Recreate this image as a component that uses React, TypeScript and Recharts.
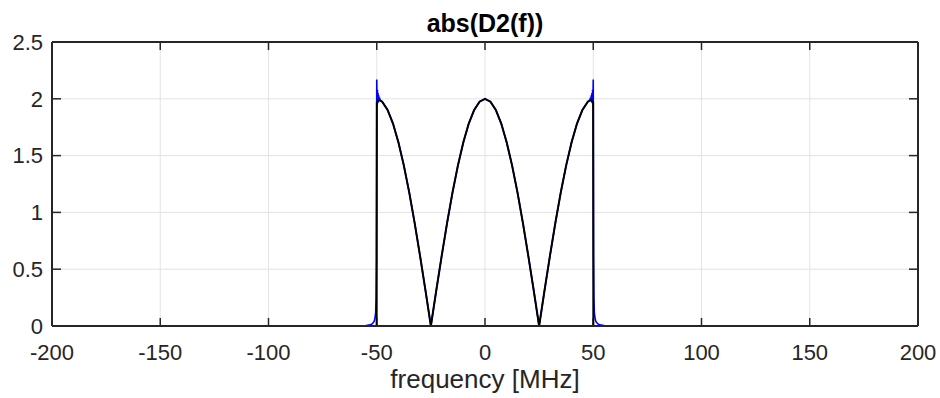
import React from "react";
import {
  CartesianGrid,
  Line,
  LineChart,
  ReferenceLine,
  XAxis,
  YAxis,
} from "recharts";

const xTicks = [-200, -150, -100, -50, 0, 50, 100, 150, 200];
const yTicks = [0, 0.5, 1, 1.5, 2, 2.5];

// |D2(f)| sampled inside the band, shared by both traces
const coreFreq = [
  -47.5, -45, -42.5, -40, -37.5, -35, -32.5, -30, -27.5, -25, -22.5, -20, -17.5,
  -15, -12.5, -10, -7.5, -5, -2.5, 0, 2.5, 5, 7.5, 10, 12.5, 15, 17.5, 20, 22.5,
  25, 27.5, 30, 32.5, 35, 37.5, 40, 42.5, 45, 47.5,
];
const coreAmp = [
  1.975, 1.902, 1.782, 1.618, 1.414, 1.176, 0.908, 0.618, 0.313, 0, 0.313,
  0.618, 0.908, 1.176, 1.414, 1.618, 1.782, 1.902, 1.975, 2.0, 1.975, 1.902,
  1.782, 1.618, 1.414, 1.176, 0.908, 0.618, 0.313, 0, 0.313, 0.618, 0.908,
  1.176, 1.414, 1.618, 1.782, 1.902, 1.975,
];

// black trace: ideal band edges
const blackLeftFreq = [-200, -50.05, -49.95, -49];
const blackLeftAmp = [0, 0, 1.97, 1.99];
const blackRightFreq = [49, 49.95, 50.05, 200];
const blackRightAmp = [1.99, 1.97, 0, 0];

// blue trace: ringing and roll-off at the edges
const blueLeftFreq = [
  -200, -60, -55, -53, -52, -51.2, -50.8, -50.5, -50.3, -50.15, -50.05, -50,
  -49.85, -49.7, -49.55, -49.4, -49.25, -49.1, -48.9, -48.7, -48.5,
];
const blueLeftAmp = [
  0, 0.002, 0.005, 0.01, 0.02, 0.04, 0.07, 0.12, 0.25, 0.6, 1.5, 2.17, 1.94,
  2.08, 1.96, 2.05, 1.97, 2.03, 1.98, 2.01, 1.99,
];
const blueRightFreq = [
  48.5, 48.7, 48.9, 49.1, 49.25, 49.4, 49.55, 49.7, 49.85, 50, 50.05, 50.15,
  50.3, 50.5, 50.8, 51.2, 52, 53, 55, 60, 200,
];
const blueRightAmp = [
  1.99, 2.01, 1.98, 2.03, 1.97, 2.05, 1.96, 2.08, 1.94, 2.17, 1.5, 0.6, 0.25,
  0.12, 0.07, 0.04, 0.02, 0.01, 0.005, 0.002, 0,
];

const toRows = (f: number[], a: number[]) =>
  f.map((freq, i) => ({ freq, amp: a[i] }));

const blackData = [
  ...toRows(blackLeftFreq, blackLeftAmp),
  ...toRows(coreFreq, coreAmp),
  ...toRows(blackRightFreq, blackRightAmp),
];
const blueData = [
  ...toRows(blueLeftFreq, blueLeftAmp),
  ...toRows(coreFreq, coreAmp),
  ...toRows(blueRightFreq, blueRightAmp),
];

const AXIS = "#262626";
const FONT = '"Liberation Sans", Arial, Helvetica, sans-serif';
const TICK_DY = 0.0704; // ~8px in y units
const TICK_DX = 4.16; // ~9px in x units

export default function App() {
  const innerX = xTicks.slice(1, -1);
  const innerY = yTicks.slice(1, -1);

  return (
    <div
      style={{
        position: "relative",
        width: 940,
        height: 398,
        fontFamily: FONT,
        background: "#fff",
      }}
    >
      <style>{"body{margin:0}"}</style>
      <div
        style={{
          position: "absolute",
          left: 52,
          width: 866,
          top: 11,
          textAlign: "center",
          fontSize: 25,
          lineHeight: "25px",
          fontWeight: "bold",
          color: "#000",
        }}
      >
        abs(D2(f))
      </div>
      <LineChart
        width={940}
        height={398}
        margin={{ top: 42, right: 22, bottom: 0, left: 0 }}
      >
        <CartesianGrid stroke="#e3e3e3" strokeWidth={1} />
        <XAxis
          dataKey="freq"
          type="number"
          domain={[-200, 200]}
          ticks={xTicks}
          allowDataOverflow
          height={72}
          tickSize={0}
          tickMargin={18}
          tickLine={false}
          axisLine={{ stroke: AXIS, strokeWidth: 2 }}
          tick={{ fill: AXIS, fontSize: 22 }}
          label={{
            value: "frequency [MHz]",
            position: "insideBottom",
            offset: 10,
            fill: AXIS,
            fontSize: 26,
          }}
        />
        <YAxis
          type="number"
          domain={[0, 2.5]}
          ticks={yTicks}
          allowDataOverflow
          width={52}
          tickSize={0}
          tickMargin={9}
          tickLine={false}
          axisLine={{ stroke: AXIS, strokeWidth: 2 }}
          tick={{ fill: AXIS, fontSize: 22 }}
        />
        <ReferenceLine y={2.5} stroke={AXIS} strokeWidth={2} />
        <ReferenceLine x={200} stroke={AXIS} strokeWidth={2} />
        {innerX.map((t) => (
          <ReferenceLine
            key={`xb${t}`}
            segment={[
              { x: t, y: 0 },
              { x: t, y: TICK_DY },
            ]}
            stroke={AXIS}
            strokeWidth={1.5}
          />
        ))}
        {innerX.map((t) => (
          <ReferenceLine
            key={`xt${t}`}
            segment={[
              { x: t, y: 2.5 },
              { x: t, y: 2.5 - TICK_DY },
            ]}
            stroke={AXIS}
            strokeWidth={1.5}
          />
        ))}
        {innerY.map((t) => (
          <ReferenceLine
            key={`yl${t}`}
            segment={[
              { x: -200, y: t },
              { x: -200 + TICK_DX, y: t },
            ]}
            stroke={AXIS}
            strokeWidth={1.5}
          />
        ))}
        {innerY.map((t) => (
          <ReferenceLine
            key={`yr${t}`}
            segment={[
              { x: 200, y: t },
              { x: 200 - TICK_DX, y: t },
            ]}
            stroke={AXIS}
            strokeWidth={1.5}
          />
        ))}
        <Line
          data={blueData}
          dataKey="amp"
          type="linear"
          stroke="#0000ff"
          strokeWidth={1.6}
          dot={false}
          activeDot={false}
          isAnimationActive={false}
        />
        <Line
          data={blackData}
          dataKey="amp"
          type="linear"
          stroke="#000000"
          strokeWidth={2}
          dot={false}
          activeDot={false}
          isAnimationActive={false}
        />
      </LineChart>
    </div>
  );
}
